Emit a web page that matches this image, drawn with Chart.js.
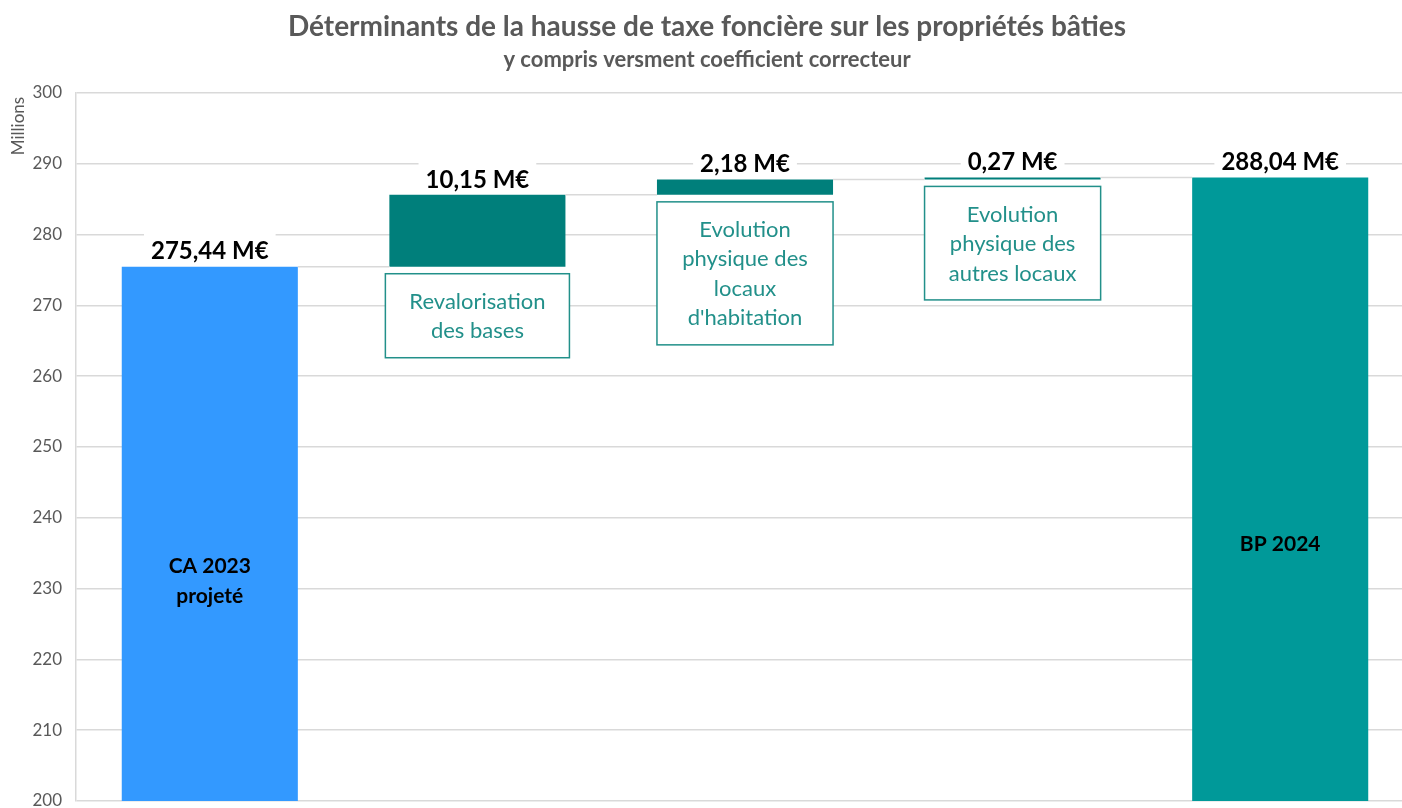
<!DOCTYPE html>
<html lang="fr">
<head>
<meta charset="utf-8">
<script src="https://cdn.jsdelivr.net/npm/chart.js@4/dist/chart.umd.min.js"></script>
<style>
  html, body { margin: 0; padding: 0; background: #fff; overflow: hidden; }
  #wrap { width: 1420px; height: 808px; }
</style>
</head>
<body>
<div id="wrap"><canvas id="chart" width="1420" height="808"></canvas></div>
<script>
// données (millions d'euros)
const categories = [
  ['CA 2023', 'projeté'],
  ['Revalorisation', 'des bases'],
  ['Evolution', 'physique des', 'locaux', "d'habitation"],
  ['Evolution', 'physique des', 'autres locaux'],
  ['BP 2024']
];
const kinds = ['total', 'delta', 'delta', 'delta', 'total'];
const amounts = [275.44, 10.15, 2.18, 0.27, 288.04];
const valueLabels = ['275,44 M€', '10,15 M€', '2,18 M€', '0,27 M€', '288,04 M€'];
const barColors = ['#3399FF', '#007F7B', '#007F7B', '#007F7B', '#009999'];

// barres flottantes pour les variations
let running = 0;
const barData = amounts.map((v, i) => {
  if (kinds[i] === 'total') { running = v; return v; }
  const start = running;
  running += v;
  return [start, running];
});

const GREY = '#595959';
const TEAL_TEXT = '#22908A';

const decorations = {
  id: 'decorations',
  afterDatasetsDraw(chart) {
    const ctx = chart.ctx;
    const area = chart.chartArea;
    const bars = chart.getDatasetMeta(0).data;
    ctx.save();

    // lignes de liaison
    ctx.strokeStyle = '#d9d9d9';
    ctx.lineWidth = 1.5;
    for (let i = 0; i < bars.length - 1; i++) {
      const a = bars[i], b = bars[i + 1];
      const top = Math.min(a.y, a.base);
      ctx.beginPath();
      ctx.moveTo(a.x + a.width / 2, top);
      ctx.lineTo(b.x - b.width / 2, top);
      ctx.stroke();
    }

    // montants au-dessus des barres
    ctx.font = 'bold 24px Lato';
    ctx.textAlign = 'center';
    ctx.textBaseline = 'middle';
    bars.forEach((bar, i) => {
      const top = Math.min(bar.y, bar.base);
      const cy = top - 16;
      const w = ctx.measureText(valueLabels[i]).width + 14;
      ctx.fillStyle = '#fff';
      ctx.fillRect(bar.x - w / 2, cy - 19, w, 33);
      ctx.fillStyle = '#000';
      ctx.fillText(valueLabels[i], bar.x, cy + 1);
    });

    // étiquettes
    bars.forEach((bar, i) => {
      const lines = categories[i];
      const top = Math.min(bar.y, bar.base);
      const bottom = Math.max(bar.y, bar.base);
      if (kinds[i] === 'total') {
        ctx.font = 'bold 21px Lato';
        ctx.fillStyle = '#000';
        const cy = top + 0.588 * (area.bottom - top);
        lines.forEach((t, k) => {
          ctx.fillText(t, bar.x, cy + (k - (lines.length - 1) / 2) * 30);
        });
      } else {
        ctx.font = '22px Lato';
        const tw = Math.max(...lines.map(t => ctx.measureText(t).width));
        const bw = Math.max(tw + 48, bar.width);
        const bh = lines.length * 29.5 + 25;
        const by = bottom + 7;
        ctx.fillStyle = '#fff';
        ctx.fillRect(bar.x - bw / 2, by, bw, bh);
        ctx.strokeStyle = TEAL_TEXT;
        ctx.lineWidth = 1.5;
        ctx.strokeRect(bar.x - bw / 2, by, bw, bh);
        ctx.fillStyle = TEAL_TEXT;
        lines.forEach((t, k) => {
          ctx.fillText(t, bar.x, by + 28 + k * 29.5);
        });
      }
    });

    // unité de l'axe
    ctx.translate(18.5, 126);
    ctx.rotate(-Math.PI / 2);
    ctx.font = '17px Lato';
    ctx.fillStyle = GREY;
    ctx.fillText('Millions', 0, 0);
    ctx.restore();
  }
};

new Chart(document.getElementById('chart'), {
  type: 'bar',
  data: {
    labels: categories,
    datasets: [{
      data: barData,
      backgroundColor: barColors,
      borderWidth: 0,
      barPercentage: 0.658,
      categoryPercentage: 1
    }]
  },
  options: {
    responsive: false,
    animation: false,
    layout: { padding: { top: 0, left: 0, right: 6, bottom: 7 } },
    plugins: {
      legend: { display: false },
      tooltip: { enabled: false },
      title: {
        display: true,
        text: 'Déterminants de la hausse de taxe foncière sur les propriétés bâties',
        color: GREY,
        font: { family: 'Lato', size: 28, weight: 'bold' },
        padding: { top: 10, bottom: 3 }
      },
      subtitle: {
        display: true,
        text: 'y compris versment coefficient correcteur',
        color: GREY,
        font: { family: 'Lato', size: 22, weight: 'bold' },
        padding: { top: 0, bottom: 19.8 }
      }
    },
    scales: {
      x: { display: false },
      y: {
        min: 200,
        max: 300,
        ticks: { stepSize: 10, color: GREY, padding: 14, font: { family: 'Lato', size: 17 } },
        grid: { color: '#d9d9d9', lineWidth: 1.5, drawTicks: false },
        border: { color: '#d9d9d9', width: 1.5 },
        afterFit(scale) {
          scale.width = 76;
          scale.paddingTop = 0;
          scale.paddingBottom = 0;
        }
      }
    }
  },
  plugins: [decorations]
});
</script>
</body>
</html>
